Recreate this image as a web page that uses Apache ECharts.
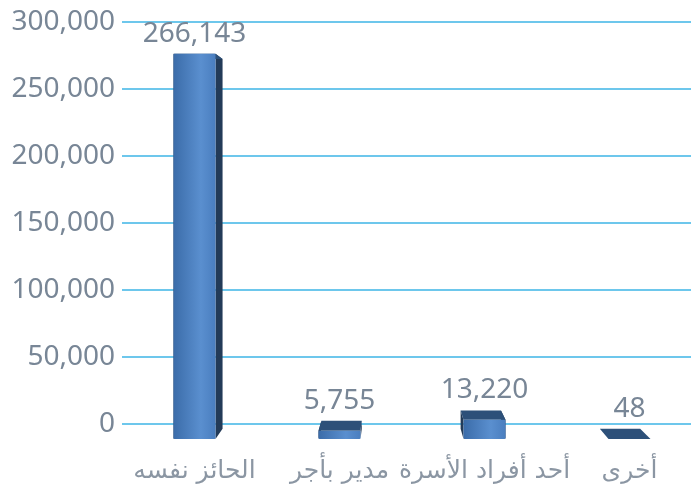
<!DOCTYPE html>
<html>
<head>
<meta charset="utf-8">
<script src="https://cdn.jsdelivr.net/npm/echarts@6/dist/echarts.min.js"></script>
<style>
  html, body { margin: 0; padding: 0; background: #fff; }
  #chart { width: 691px; height: 491px; }
</style>
</head>
<body>
<div id="chart"></div>
<script>
const categories = ["الحائز نفسه", "مدير بأجر", "أحد أفراد الأسرة", "أخرى"];
const values = [266143, 5755, 13220, 48];
const yTicks = { min: 0, max: 300000, interval: 50000 };

const textGray = "#788696";
const fmt = (n) => n.toLocaleString("en-US");

// fake perspective: back faces pulled toward a vanishing point
const VP = [392, 184];
const DEPTH = 0.04;
const HALF_W = 21;
const back = (x, y) => [x + (VP[0] - x) * DEPTH, y + (VP[1] - y) * DEPTH];

const renderBar = (params, api) => {
  const idx = api.value(0);
  const v = api.value(1);
  const p0 = api.coord([idx, 0]);
  const p1 = api.coord([idx, v]);
  const cx = p0[0];
  const base = p0[1] + 15;
  const top = base - (p0[1] - p1[1]) * 1.08;
  const L = cx - HALF_W;
  const R = cx + HALF_W;
  const bLT = back(L, top), bRT = back(R, top), bLB = back(L, base), bRB = back(R, base);
  const visTop = Math.min(top, bLT[1]);

  return {
    type: "group",
    children: [
      {
        type: "polygon",
        shape: { points: [[R, top], bRT, bRB, [R, base]] },
        style: { fill: "#233b58" },
      },
      {
        type: "polygon",
        shape: { points: [[L, top], bLT, bLB, [L, base]] },
        style: { fill: "#233b58" },
      },
      {
        type: "polygon",
        shape: { points: [[L, top], [R, top], bRT, bLT] },
        style: { fill: "#2d5079" },
      },
      {
        type: "rect",
        shape: { x: L, y: top, width: R - L, height: base - top, r: 1 },
        style: {
          fill: new echarts.graphic.LinearGradient(0, 0, 1, 0, [
            { offset: 0, color: "#3b6ca9" },
            { offset: 0.65, color: "#5a8fcf" },
            { offset: 1, color: "#4a7ebf" },
          ]),
        },
      },
      {
        type: "text",
        style: {
          x: cx,
          y: visTop - 6,
          text: fmt(v),
          align: "center",
          verticalAlign: "bottom",
          fill: textGray,
          font: '28px "Noto Sans", sans-serif',
        },
      },
    ],
  };
};

const chart = echarts.init(document.getElementById("chart"));
chart.setOption({
  animation: false,
  grid: { left: 122, width: 580, top: 22, bottom: 67, outerBoundsMode: "none" },
  xAxis: {
    type: "category",
    data: categories,
    axisLine: { show: false },
    axisTick: { show: false },
    axisLabel: {
      interval: 0,
      margin: 35,
      color: "#8b96a3",
      fontSize: 25,
      fontFamily: '"DejaVu Sans", sans-serif',
    },
  },
  yAxis: {
    type: "value",
    min: yTicks.min,
    max: yTicks.max,
    interval: yTicks.interval,
    axisLine: { show: false },
    axisTick: { show: false },
    axisLabel: {
      margin: 7,
      color: textGray,
      fontSize: 28,
      fontFamily: '"Noto Sans", sans-serif',
      formatter: (v) => fmt(v),
    },
    splitLine: { lineStyle: { color: "#3cb4e6", width: 1.5 } },
  },
  series: [
    {
      type: "custom",
      renderItem: renderBar,
      clip: false,
      encode: { x: 0, y: 1 },
      data: values.map((v, i) => [i, v]),
    },
  ],
});
</script>
</body>
</html>
